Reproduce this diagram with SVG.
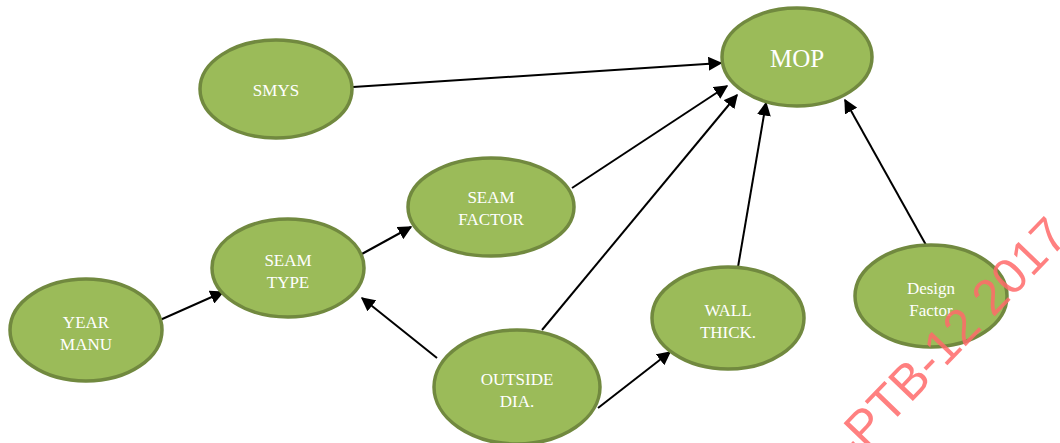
<svg xmlns="http://www.w3.org/2000/svg" width="1060" height="443" viewBox="0 0 1060 443">
  <style>
    .node ellipse { fill: #9BBB59; stroke: #71893F; stroke-width: 3.5; }
    .node text { fill: #FFFFFF; font-family: "Liberation Serif", "Times New Roman", serif; font-size: 17px; text-anchor: middle; }
    .edge { stroke: #000000; stroke-width: 2; fill: none; marker-end: url(#arrow); }
    .mark { fill: #FF6A6A; fill-opacity: 0.85; font-family: "Liberation Sans", Arial, sans-serif; font-size: 50px; }
  </style>
  <defs>
    <marker id="arrow" viewBox="0 0 10 10" refX="9" refY="5" markerWidth="14" markerHeight="14" markerUnits="userSpaceOnUse" orient="auto">
      <path d="M0,0 L10,5 L0,10 z" fill="#000000"/>
    </marker>
  </defs>

  <rect width="1060" height="443" fill="#FFFFFF"/>

  <g id="connectors">
    <line class="edge" x1="353" y1="87" x2="721" y2="63"/>
    <line class="edge" x1="572" y1="188" x2="727" y2="86"/>
    <line class="edge" x1="542" y1="330" x2="737" y2="95"/>
    <line class="edge" x1="738" y1="267" x2="766" y2="103"/>
    <line class="edge" x1="926" y1="245" x2="845" y2="100"/>
    <line class="edge" x1="160" y1="320" x2="223" y2="292"/>
    <line class="edge" x1="360" y1="255" x2="411" y2="227"/>
    <line class="edge" x1="437" y1="358" x2="362" y2="298"/>
    <line class="edge" x1="598" y1="408" x2="670" y2="352"/>
  </g>

  <g id="node-mop" class="node">
    <ellipse cx="797" cy="57" rx="75" ry="49"/>
    <text x="797" y="67" style="font-size:25px">MOP</text>
  </g>
  <g id="node-smys" class="node">
    <ellipse cx="276" cy="89" rx="76" ry="49"/>
    <text x="276" y="96">SMYS</text>
  </g>
  <g id="node-seam-factor" class="node">
    <ellipse cx="491" cy="207" rx="83" ry="49"/>
    <text x="491" y="203">SEAM</text>
    <text x="491" y="225">FACTOR</text>
  </g>
  <g id="node-seam-type" class="node">
    <ellipse cx="288" cy="268" rx="76" ry="49"/>
    <text x="288" y="266">SEAM</text>
    <text x="288" y="288">TYPE</text>
  </g>
  <g id="node-year-manu" class="node">
    <ellipse cx="86" cy="330" rx="76" ry="51"/>
    <text x="86" y="328">YEAR</text>
    <text x="86" y="350">MANU</text>
  </g>
  <g id="node-outside-dia" class="node">
    <ellipse cx="517" cy="387" rx="83" ry="57"/>
    <text x="517" y="385">OUTSIDE</text>
    <text x="517" y="407">DIA.</text>
  </g>
  <g id="node-wall-thick" class="node">
    <ellipse cx="728" cy="318" rx="76" ry="51"/>
    <text x="728" y="316">WALL</text>
    <text x="728" y="338">THICK.</text>
  </g>
  <g id="node-design-factor" class="node">
    <ellipse cx="931" cy="296" rx="76" ry="51"/>
    <text x="931" y="294">Design</text>
    <text x="931" y="316">Factor</text>
  </g>

  <!-- diagonal stamp over the lower right corner -->
  <text class="mark" transform="translate(854,462) rotate(-46)">-PTB-12 2017</text>
</svg>
